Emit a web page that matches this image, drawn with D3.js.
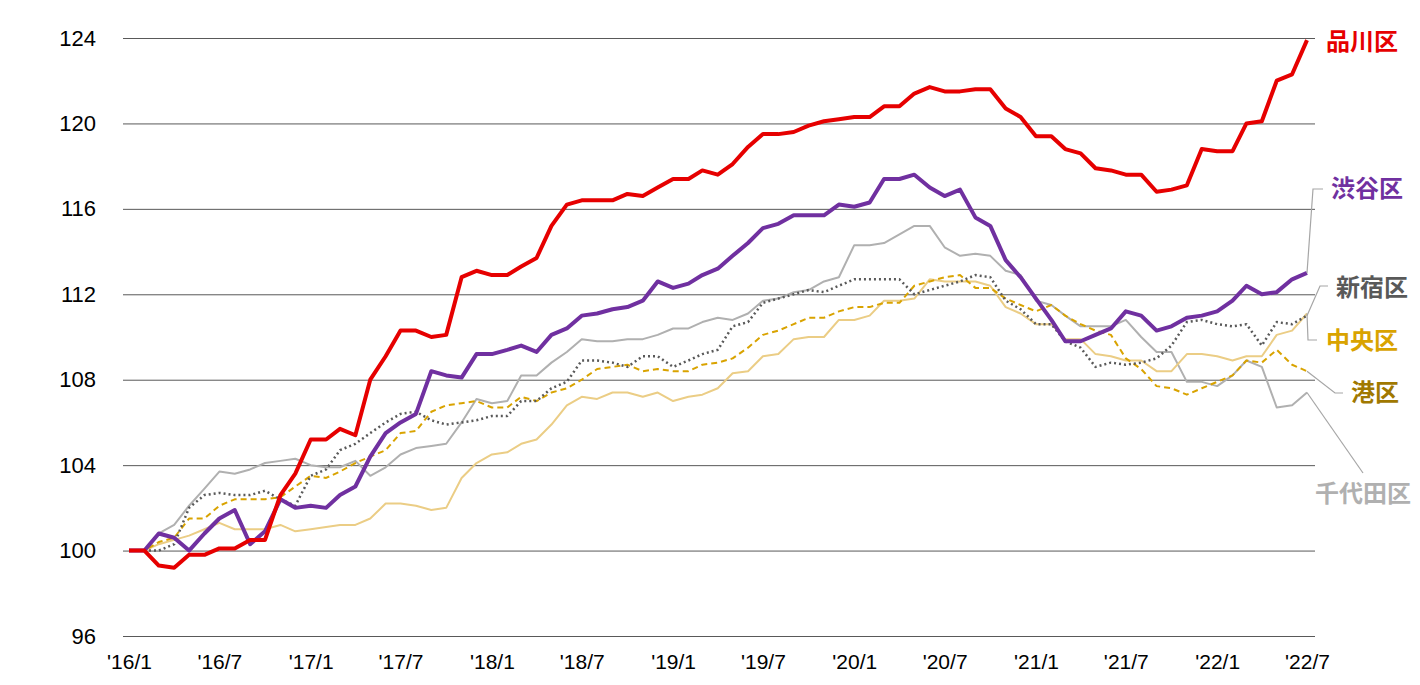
<!DOCTYPE html>
<html>
<head>
<meta charset="utf-8">
<script src="https://cdn.jsdelivr.net/npm/d3@7"></script>
<style>
  body { margin: 0; background: #fff; }
  .tick text { font-family: "Liberation Sans", Arial, sans-serif; fill: #000; }
  .label { font-family: "Noto Sans CJK JP", sans-serif; font-weight: bold; font-size: 24px; }
</style>
</head>
<body>
<div id="chart"></div>
<script>
// Data: monthly index, 2016/1 = 100
const months = d3.range(79).map(i => new Date(2016, i, 1));
const tickLabels = ["'16/1","'16/7","'17/1","'17/7","'18/1","'18/7","'19/1","'19/7","'20/1","'20/7","'21/1","'21/7","'22/1","'22/7"];
const yTicks = [96, 100, 104, 108, 112, 116, 120, 124];

const shinagawa = [100,100,99.3,99.2,99.8,99.8,100.1,100.1,100.5,100.5,102.6,103.6,105.2,105.2,105.7,105.4,108.0,109.1,110.3,110.3,
  110.0,110.1,112.8,113.1,112.9,112.9,113.3,113.7,115.2,116.2,116.4,116.4,116.4,116.7,116.6,117.0,117.4,117.4,117.8,117.6,
  118.1,118.9,119.5,119.5,119.6,119.9,120.1,120.2,120.3,120.3,120.8,120.8,121.4,121.7,121.5,121.5,121.6,121.6,120.7,120.3,
  119.4,119.4,118.8,118.6,117.9,117.8,117.6,117.6,116.8,116.9,117.1,118.8,118.7,118.7,120.0,120.1,122.0,122.3,123.9];
const shibuya = [100,100,100.8,100.6,100.0,100.8,101.5,101.9,100.3,100.9,102.4,102.0,102.1,102.0,102.6,103.0,104.4,105.5,106.0,106.4,
  108.4,108.2,108.1,109.2,109.2,109.4,109.6,109.3,110.1,110.4,111.0,111.1,111.3,111.4,111.7,112.6,112.3,112.5,112.9,113.2,
  113.8,114.4,115.1,115.3,115.7,115.7,115.7,116.2,116.1,116.3,117.4,117.4,117.6,117.0,116.6,116.9,115.6,115.2,113.6,112.8,
  111.8,110.8,109.8,109.8,110.1,110.4,111.2,111.0,110.3,110.5,110.9,111.0,111.2,111.7,112.4,112.0,112.1,112.7,113.0];
const shinjuku = [100,100,100.0,100.3,102.0,102.6,102.7,102.6,102.6,102.8,102.4,102.1,103.5,103.8,104.7,105.0,105.5,106.0,106.4,106.5,
  106.1,105.9,106.0,106.1,106.3,106.3,107.0,107.0,107.6,107.9,108.9,108.9,108.8,108.6,109.1,109.1,108.6,108.9,109.2,109.4,
  110.5,110.7,111.6,111.8,112.0,112.2,112.1,112.4,112.7,112.7,112.7,112.7,112.0,112.2,112.4,112.6,112.9,112.8,111.7,111.3,
  110.6,110.6,109.8,109.5,108.6,108.8,108.7,108.8,109.0,109.6,110.7,110.8,110.6,110.5,110.6,109.6,110.7,110.6,111.0];
const chuo = [100,100,100.3,100.5,100.7,101.0,101.3,101.0,101.0,101.0,101.2,100.9,101.0,101.1,101.2,101.2,101.5,102.2,102.2,102.1,
  101.9,102.0,103.4,104.1,104.5,104.6,105.0,105.2,105.9,106.8,107.2,107.1,107.4,107.4,107.2,107.4,107.0,107.2,107.3,107.6,
  108.3,108.4,109.1,109.2,109.9,110.0,110.0,110.8,110.8,111.0,111.7,111.7,111.8,112.7,112.6,112.6,112.6,112.4,111.4,111.1,
  110.6,110.6,109.9,109.9,109.2,109.1,108.9,108.9,108.4,108.4,109.2,109.2,109.1,108.9,109.1,109.1,110.1,110.3,111.1];
const minato = [100,100,100.4,100.6,101.5,101.5,102.1,102.4,102.4,102.4,102.5,103.0,103.5,103.4,103.7,104.1,104.4,104.7,105.5,105.6,
  106.5,106.8,106.9,107.0,106.7,106.7,107.2,107.0,107.4,107.6,108.0,108.5,108.6,108.7,108.4,108.5,108.4,108.4,108.7,108.8,
  109.0,109.5,110.1,110.3,110.6,110.9,110.9,111.2,111.4,111.4,111.6,111.6,112.4,112.6,112.8,112.9,112.3,112.3,111.8,111.5,
  111.2,111.5,111.0,110.6,110.3,110.1,109.0,108.5,107.7,107.6,107.3,107.6,107.9,108.2,108.9,108.8,109.4,108.7,108.4];
const chiyoda = [100,100,100.8,101.2,102.1,102.9,103.7,103.6,103.8,104.1,104.2,104.3,104.0,103.9,103.9,104.2,103.5,103.9,104.5,104.8,
  104.9,105.0,106.0,107.1,106.9,107.0,108.2,108.2,108.8,109.3,109.9,109.8,109.8,109.9,109.9,110.1,110.4,110.4,110.7,110.9,
  110.8,111.1,111.7,111.8,112.1,112.2,112.6,112.8,114.3,114.3,114.4,114.8,115.2,115.2,114.2,113.8,113.9,113.8,113.1,112.9,
  111.7,111.5,111.0,110.5,110.5,110.5,110.8,110.0,109.3,109.3,107.9,107.9,107.7,108.2,108.9,108.6,106.7,106.8,107.4];

const svgWidth = 1420;
const svgHeight = 685;
const margin = { top: 38, right: 113, bottom: 49, left: 129 };

const svg = d3.select("#chart")
  .append("svg")
  .attr("width", svgWidth)
  .attr("height", svgHeight);

const x = d3.scaleTime()
  .domain([months[0], months[months.length - 1]])
  .range([margin.left, svgWidth - margin.right]);

const y = d3.scaleLinear()
  .domain([96, 124])
  .range([svgHeight - margin.bottom, margin.top]);

// gridlines + y labels
const yAxis = svg.append("g")
  .attr("transform", `translate(${margin.left - 6}, 0)`)
  .call(d3.axisLeft(y).tickValues(yTicks).tickSize(-(svgWidth - margin.right - margin.left + 14)).tickPadding(27));
yAxis.select(".domain").remove();
yAxis.selectAll(".tick line").attr("stroke", "#595959").attr("stroke-width", 1);
yAxis.selectAll(".tick text").style("font-size", "22px");

// x labels
const xTickDates = d3.range(0, 79, 6).map(i => months[i]);
const xAxis = svg.append("g")
  .attr("transform", `translate(0, ${svgHeight - margin.bottom})`)
  .call(d3.axisBottom(x).tickValues(xTickDates).tickSize(0).tickPadding(18)
    .tickFormat((d, i) => tickLabels[i]));
xAxis.select(".domain").remove();
xAxis.selectAll(".tick text").style("font-size", "21px");

const line = d3.line()
  .x((d, i) => x(months[i]))
  .y(d => y(d));

const series = [
  { name: "千代田区", values: chiyoda, color: "#b0b0b0", width: 2, dash: null },
  { name: "中央区", values: chuo, color: "#ebcd85", width: 2, dash: null },
  { name: "港区", values: minato, color: "#d9a300", width: 2, dash: "6,4" },
  { name: "新宿区", values: shinjuku, color: "#595959", width: 2.5, dash: "2,3" },
  { name: "渋谷区", values: shibuya, color: "#7030a0", width: 4, dash: null },
  { name: "品川区", values: shinagawa, color: "#e60000", width: 4, dash: null }
];

svg.selectAll(".series")
  .data(series)
  .enter()
  .append("path")
  .attr("class", "series")
  .attr("d", d => line(d.values))
  .attr("fill", "none")
  .attr("stroke", d => d.color)
  .attr("stroke-width", d => d.width)
  .attr("stroke-dasharray", d => d.dash)
  .attr("stroke-linejoin", "round");

// end labels with leader lines (offsets from the last point)
const xEnd = x(months[78]);
const labels = [
  { text: "品川区", color: "#e60000", v: shinagawa[78], leader: null, lx: 1326, ly: 42 },
  { text: "渋谷区", color: "#7030a0", v: shibuya[78], leader: [[1313, 189], [1323, 189]], lx: 1331, ly: 189 },
  { text: "新宿区", color: "#595959", v: shinjuku[78], leader: [[1320, 286], [1328, 286]], lx: 1336, ly: 288 },
  { text: "中央区", color: "#d9a300", v: chuo[78], leader: [[1308, 340], [1317, 340]], lx: 1326, ly: 341 },
  { text: "港区", color: "#a07800", v: minato[78], leader: [[1335, 393], [1343, 393]], lx: 1351, ly: 393 },
  { text: "千代田区", color: "#b0b0b0", v: chiyoda[78], leader: [[1363, 473]], lx: 1315, ly: 494 }
];

labels.filter(d => d.leader).forEach(d => {
  const pts = [[xEnd, y(d.v)]].concat(d.leader);
  svg.append("path")
    .attr("d", d3.line()(pts))
    .attr("fill", "none")
    .attr("stroke", "#a6a6a6")
    .attr("stroke-width", 1.2);
});

svg.selectAll(".label")
  .data(labels)
  .enter()
  .append("text")
  .attr("class", "label")
  .attr("x", d => d.lx)
  .attr("y", d => d.ly)
  .attr("dy", "0.35em")
  .attr("fill", d => d.color)
  .text(d => d.text);
</script>
</body>
</html>
